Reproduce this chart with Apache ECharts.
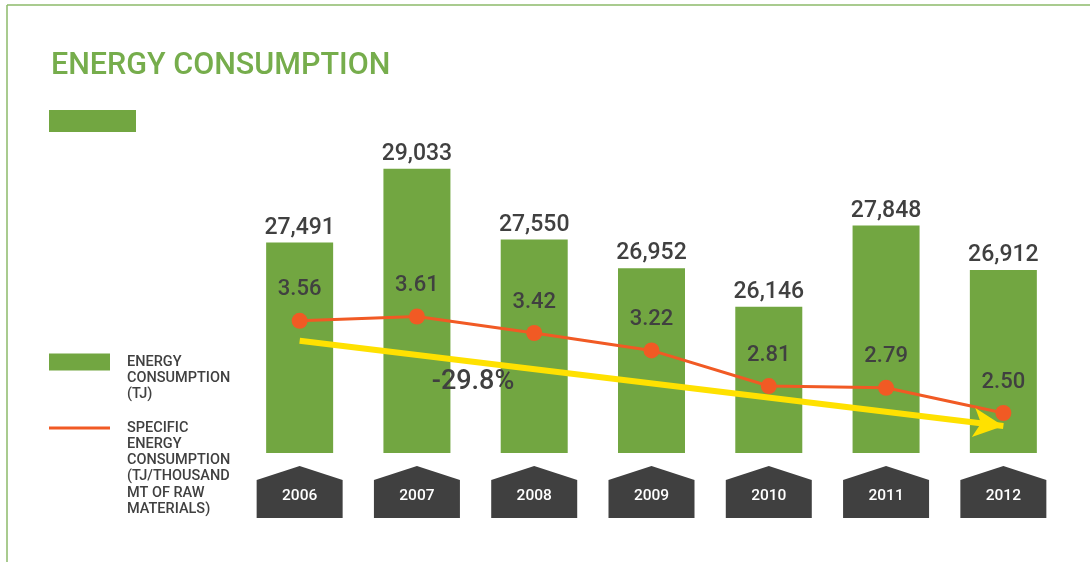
<!DOCTYPE html>
<html>
<head>
<meta charset="utf-8">
<script src="https://cdn.jsdelivr.net/npm/echarts@6/dist/echarts.min.js"></script>
<style>
  html, body { margin: 0; padding: 0; background: #fff; }
  #chart { width: 1090px; height: 562px; }
</style>
</head>
<body>
<div id="chart"></div>
<script>
// data
const years = ["2006", "2007", "2008", "2009", "2010", "2011", "2012"];
const energyTJ = [27491, 29033, 27550, 26952, 26146, 27848, 26912];
const specificEnergy = [3.56, 3.61, 3.42, 3.22, 2.81, 2.79, 2.50];
const trendLabel = "-29.8%";

const FONT = "Roboto, sans-serif";
const GREEN = "#72a641";
const ORANGE = "#f15a24";
const DARK = "#404040";

// blank lines in front push the first line level with the legend icon
const legendNames = {
  energy: "\n\nENERGY\nCONSUMPTION\n(TJ)",
  specific: "\n\n\n\n\nSPECIFIC\nENERGY\nCONSUMPTION\n(TJ/THOUSAND\nMT OF RAW\nMATERIALS)",
};

const barMin = 23080;
const barMax = 30475;

var myChart = echarts.init(document.getElementById("chart"));

var option = {
  backgroundColor: "#fff",
  animation: false,
  textStyle: { fontFamily: FONT },
  title: {
    text: "ENERGY CONSUMPTION",
    left: 46,
    top: 46,
    textStyle: { color: "#76ad4c", fontSize: 30.5, fontWeight: 500, fontFamily: FONT },
  },
  legend: [
    {
      data: ["energy"],
      orient: "vertical",
      left: 49,
      top: 322,
      padding: 0,
      icon: "rect",
      itemWidth: 61,
      itemHeight: 17,
      selectedMode: false,
      formatter: (n) => legendNames[n],
      textStyle: { color: DARK, fontSize: 14.5, fontWeight: 500, lineHeight: 16, padding: [0, 0, 0, 12] },
    },
    {
      data: ["specific"],
      orient: "vertical",
      left: 49,
      top: 339,
      padding: 0,
      icon: "rect",
      itemWidth: 61,
      itemHeight: 3,
      selectedMode: false,
      formatter: (n) => legendNames[n],
      textStyle: { color: DARK, fontSize: 14.5, fontWeight: 500, lineHeight: 16.2, padding: [0, 0, 0, 12] },
    },
  ],
  grid: { left: 241, right: 28, top: 100, bottom: 109 },
  xAxis: {
    type: "category",
    data: years,
    axisLine: { show: false },
    axisTick: { show: false },
    axisLabel: { show: false },
  },
  yAxis: [
    { type: "value", min: barMin, max: barMax, show: false, splitLine: { show: false } },
    { type: "value", min: 2.04, max: 6.1, show: false, splitLine: { show: false } },
  ],
  series: [
    {
      name: "energy",
      type: "bar",
      data: energyTJ,
      barWidth: 67,
      itemStyle: { color: GREEN },
      label: {
        show: true,
        position: "top",
        distance: 3,
        color: DARK,
        fontSize: 23,
        fontWeight: 500,
        fontFamily: FONT,
        formatter: (p) => p.value.toLocaleString("en-US"),
      },
    },
    {
      name: "specific",
      type: "line",
      yAxisIndex: 1,
      data: specificEnergy,
      z: 4,
      symbol: "circle",
      symbolSize: 16,
      lineStyle: { color: ORANGE, width: 3 },
      itemStyle: { color: ORANGE },
      label: {
        show: true,
        position: "top",
        distance: 12,
        color: DARK,
        fontSize: 22,
        fontWeight: 500,
        fontFamily: FONT,
        formatter: (p) => p.value.toFixed(2),
      },
      markLine: {
        silent: true,
        symbol: ["none", "arrow"],
        symbolSize: [22, 30],
        label: { show: false },
        lineStyle: { color: "#ffe100", width: 6, type: "solid" },
        data: [[{ coord: [0, 3.33] }, { coord: [6, 2.35] }]],
      },
    },
    {
      // house shaped year tags below the bars
      type: "custom",
      data: years.map((y, i) => [i]),
      clip: false,
      z: 3,
      renderItem: function (params, api) {
        const p = api.coord([api.value(0), barMin]);
        const x = p[0];
        const b = p[1];
        return {
          type: "group",
          children: [
            {
              type: "polygon",
              shape: {
                points: [
                  [x - 43, b + 27],
                  [x, b + 13],
                  [x + 43, b + 27],
                  [x + 43, b + 65],
                  [x - 43, b + 65],
                ],
              },
              style: { fill: "#404040" },
            },
            {
              type: "text",
              x: x,
              y: b + 43,
              style: {
                text: years[params.dataIndex],
                fill: "#fff",
                font: "500 15.5px " + FONT,
                align: "center",
                verticalAlign: "middle",
              },
            },
          ],
        };
      },
    },
  ],
  graphic: [
    { type: "line", shape: { x1: 7, y1: 5, x2: 1090, y2: 5 }, style: { stroke: "#8dba6a", lineWidth: 1.5 } },
    { type: "line", shape: { x1: 7, y1: 5, x2: 7, y2: 562 }, style: { stroke: "#8dba6a", lineWidth: 1.5 } },
    { type: "rect", shape: { x: 49, y: 110, width: 87, height: 22 }, style: { fill: GREEN } },
    {
      type: "text",
      x: 473,
      y: 382,
      z: 10,
      style: { text: trendLabel, fill: DARK, font: "500 27px " + FONT, align: "center", verticalAlign: "middle" },
    },
  ],
};

myChart.setOption(option);
</script>
</body>
</html>
